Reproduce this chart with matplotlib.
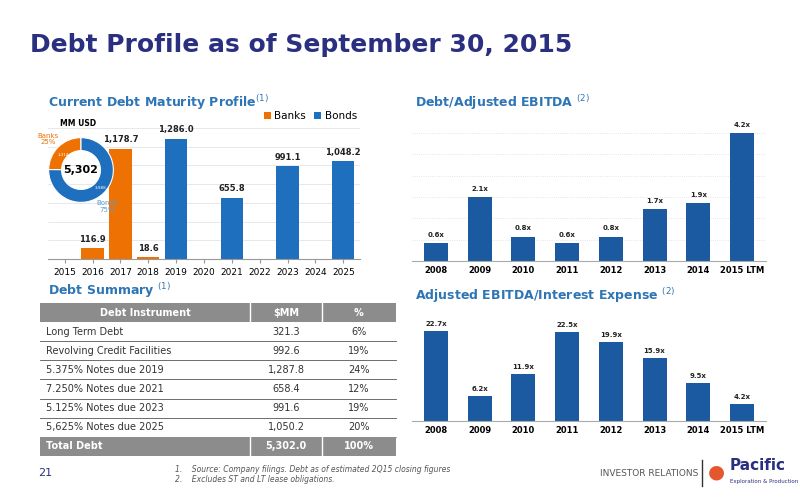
import matplotlib
matplotlib.use("Agg")
import matplotlib.pyplot as plt
from matplotlib.patches import Rectangle

years = ["2015","2016","2017","2018","2019","2020","2021","2022","2023","2024","2025"]
banks = [0, 116.9, 1178.7, 18.6, 0, 0, 0, 0, 0, 0, 0]
bonds = [0, 0, 0, 0, 1286.0, 0, 655.8, 0, 991.1, 0, 1048.2]
donut_labels = ["Banks", "Bonds"]
donut_vals = [1314, 3988]
ebitda_years = ["2008","2009","2010","2011","2012","2013","2014","2015 LTM"]
debt_ebitda = [0.6, 2.1, 0.8, 0.6, 0.8, 1.7, 1.9, 4.2]
int_cov = [22.7, 6.2, 11.9, 22.5, 19.9, 15.9, 9.5, 4.2]
tbl_head = ["Debt Instrument", "$MM", "%"]
tbl_rows = [["Long Term Debt","321.3","6%"],
            ["Revolving Credit Facilities","992.6","19%"],
            ["5.375% Notes due 2019","1,287.8","24%"],
            ["7.250% Notes due 2021","658.4","12%"],
            ["5.125% Notes due 2023","991.6","19%"],
            ["5,625% Notes due 2025","1,050.2","20%"]]
tbl_total = ["Total Debt","5,302.0","100%"]

W, H = 800, 500
ORANGE = "#EE7203"; BLUE = "#1F6FBF"; DBLUE = "#1B5AA0"; HEAD = "#2E75B6"; NAVY = "#2B2F80"
fig = plt.figure(figsize=(8, 5), dpi=100)

def ax_at(x0, y0, x1, y1):
    return fig.add_axes([x0/W, 1-y1/H, (x1-x0)/W, (y1-y0)/H])

def ftext(x, y, s, **kw):
    fig.text(x/W, 1-y/H, s, **kw)

ftext(30, 45, "Debt Profile as of September 30, 2015", fontsize=18, fontweight="bold", color=NAVY, va="center")
ftext(48, 103, "Current Debt Maturity Profile$^{(1)}$", fontsize=9, fontweight="bold", color=HEAD, va="center")
ftext(415, 103, "Debt/Adjusted EBITDA $^{(2)}$", fontsize=9, fontweight="bold", color=HEAD, va="center")
ftext(48, 291, "Debt Summary $^{(1)}$", fontsize=9, fontweight="bold", color=HEAD, va="center")
ftext(415, 296, "Adjusted EBITDA/Interest Expense $^{(2)}$", fontsize=9, fontweight="bold", color=HEAD, va="center")

# Maturity chart
ax = ax_at(48, 128, 360, 259)
x = range(len(years))
ax.bar(x, banks, width=0.8, color=ORANGE, label="Banks")
ax.bar(x, bonds, width=0.8, color=BLUE, label="Bonds")
for i in x:
    v = banks[i] or bonds[i]
    if v:
        ax.text(i, v + 45, f"{v:,.1f}", ha="center", va="bottom", fontsize=6, fontweight="bold", color="#222")
ax.set_ylim(0, 1400)
ax.set_xlim(-0.6, len(years)-0.4)
ax.set_xticks(list(x)); ax.set_xticklabels(years, fontsize=6.5)
ax.set_yticks(range(200, 1401, 200)); ax.set_yticklabels([])
ax.tick_params(axis="y", length=0)
ax.tick_params(axis="x", length=3, color="#999")
ax.grid(axis="y", color="#e4e4e4", lw=0.6)
ax.set_axisbelow(True)
for s in ["top", "right", "left"]:
    ax.spines[s].set_visible(False)
ax.spines["bottom"].set_color("#999")
ax.legend(loc="upper right", bbox_to_anchor=(1.02, 1.2), ncol=2, fontsize=7.5, frameon=False,
          handlelength=0.7, handleheight=0.7, columnspacing=0.8, handletextpad=0.3)
ftext(60, 124, "MM USD", fontsize=5.5, fontweight="bold", va="center")

# donut
dax = ax_at(48, 137, 114, 203)
dax.pie(donut_vals, colors=[ORANGE, BLUE], startangle=90, counterclock=True, radius=1.0,
        wedgeprops=dict(width=0.4, edgecolor="white", linewidth=0.8))
dax.set_xlim(-1.02, 1.02); dax.set_ylim(-1.02, 1.02)
dax.set_aspect("equal")
dax.text(0, 0, f"{sum(donut_vals):,}", ha="center", va="center", fontsize=8, fontweight="bold")
dax.text(-0.55, 0.45, f"{donut_vals[0]:,}", ha="center", va="center", fontsize=3, color="white")
dax.text(0.6, -0.55, f"{donut_vals[1]:,}", ha="center", va="center", fontsize=3, color="white")
tot = sum(donut_vals)
ftext(48, 139, f"Banks\n{round(donut_vals[0]/tot*100)}%", fontsize=5, color=ORANGE, ha="center", va="center")
ftext(107, 207, f"Bonds\n{round(donut_vals[1]/tot*100)}%", fontsize=5, color="#5b9bd5", ha="center", va="center")

def ratio_chart(y0, y1, vals, top):
    a = ax_at(412, y0, 766, y1)
    xs = range(len(ebitda_years))
    a.bar(xs, vals, width=0.55, color=DBLUE)
    for i, v in enumerate(vals):
        a.text(i, v + top*0.04, f"{v}x", ha="center", va="bottom", fontsize=5, fontweight="bold", color="#222")
    a.set_ylim(0, top)
    a.set_xlim(-0.55, len(vals)-0.45)
    a.set_xticks(list(xs)); a.set_xticklabels(ebitda_years, fontsize=6, fontweight="bold")
    a.tick_params(axis="x", length=0)
    a.tick_params(axis="y", length=0)
    a.set_yticklabels([])
    for s in ["top", "right", "left"]:
        a.spines[s].set_visible(False)
    a.spines["bottom"].set_color("#aaa")
    return a

a1 = ratio_chart(133, 261, debt_ebitda, 4.2)
a1.set_yticks([0.7*k for k in range(1, 7)])
a1.grid(axis="y", color="#ddd", lw=0.6, ls=":")
a1.set_axisbelow(True)
a2 = ratio_chart(322, 421, int_cov, 25)
a2.set_yticks([])

# table
tx0, tx1 = 40, 396
c1, c2 = 250, 322
ry0, rh = 303, 19.1
GREY = "#8C8C8C"
def row(yy, cells, bg, color, bold):
    fig.patches.append(Rectangle((tx0/W, 1-(yy+rh)/H), (tx1-tx0)/W, rh/H, transform=fig.transFigure,
                                 facecolor=bg, edgecolor="none"))
    ym = yy + rh/2
    fw = "bold" if bold else "normal"
    if cells is tbl_head:
        ftext((tx0+c1)/2, ym, cells[0], fontsize=7, color=color, fontweight=fw, ha="center", va="center")
    else:
        ftext(tx0+6, ym, cells[0], fontsize=7, color=color, fontweight=fw, ha="left", va="center")
    ftext((c1+c2)/2, ym, cells[1], fontsize=7, color=color, fontweight=fw, ha="center", va="center")
    ftext((c2+tx1)/2, ym, cells[2], fontsize=7, color=color, fontweight=fw, ha="center", va="center")

row(ry0, tbl_head, GREY, "white", True)
for i, r in enumerate(tbl_rows):
    yy = ry0 + rh*(i+1)
    row(yy, r, "white", "#333", False)
    fig.add_artist(plt.Line2D([tx0/W, tx1/W], [1-(yy+rh)/H]*2, color="#555" if i < 5 else GREY, lw=0.6))
row(ry0 + rh*7, tbl_total, GREY, "white", True)
for cx in (c1, c2):
    for yy in (ry0, ry0 + rh*7):
        fig.add_artist(plt.Line2D([cx/W]*2, [1-yy/H, 1-(yy+rh)/H], color="white", lw=1))

ftext(38, 473, "21", fontsize=8, color=NAVY, va="center")
ftext(175, 469, "1.    Source: Company filings. Debt as of estimated 2Q15 closing figures", fontsize=5.5, style="italic", color="#555", va="center")
ftext(175, 480, "2.    Excludes ST and LT lease obligations.", fontsize=5.5, style="italic", color="#555", va="center")
ftext(600, 473, "INVESTOR RELATIONS", fontsize=6.5, color="#555", va="center")
fig.add_artist(plt.Line2D([702/W]*2, [1-460/H, 1-486/H], color="#333", lw=1))
ftext(716, 472, "●", fontsize=14, color="#E4572E", va="center", ha="center")
ftext(730, 465, "Pacific", fontsize=11, fontweight="bold", color=NAVY, va="center")
ftext(730, 482, "Exploration & Production", fontsize=4, color=NAVY, va="center")

fig.savefig("out.png", dpi=100)
